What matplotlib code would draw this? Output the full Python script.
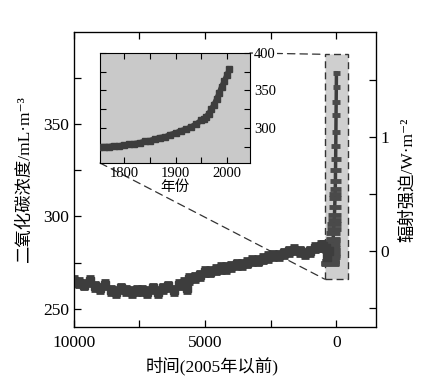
import matplotlib
matplotlib.use("Agg")
import matplotlib.pyplot as plt
import numpy as np
from matplotlib.patches import Rectangle, ConnectionPatch

# ── Données ─────────────────────────────────────────────────────────────
# Série principale : années avant 2005 -> CO2 (mL/m3)
bp_years = [10000, 9800, 9600, 9400, 9200, 9000, 8800, 8600, 8400, 8200,
            8000, 7800, 7600, 7400, 7200, 7000, 6800, 6600, 6400, 6200,
            6000, 5800, 5700, 5600, 5400, 5200, 5000, 4800, 4600, 4400,
            4200, 4000, 3800, 3600, 3400, 3200, 3000, 2800, 2600, 2400,
            2200, 2000, 1800, 1600, 1400, 1200, 1000, 800, 600, 500,
            400, 350, 300]
co2_bp = [265, 264, 263, 265, 262, 261, 263, 260, 259, 261,
          260, 259, 260, 260, 259, 261, 259, 261, 262, 260,
          263, 264, 261, 266, 267, 268, 270, 270, 271, 272,
          272, 273, 274, 274, 275, 276, 276, 277, 278, 279,
          279, 280, 281, 282, 281, 280, 281, 283, 284, 284,
          283, 278, 281]

# Période industrielle (encart) : année -> CO2
ind_years = [1750, 1760, 1770, 1780, 1790, 1800, 1810, 1820, 1830, 1840,
             1850, 1860, 1870, 1880, 1890, 1900, 1910, 1920, 1930, 1940,
             1950, 1955, 1960, 1965, 1970, 1975, 1980, 1985, 1990, 1995,
             2000, 2005]
co2_ind = [274, 275, 275, 276, 276, 277, 278, 279, 280, 282,
           283, 285, 287, 288, 291, 293, 296, 298, 301, 305,
           310, 312, 315, 319, 325, 331, 338, 346, 355, 362,
           370, 378]

DARK = "#3d3d3d"
CJK = ["Liberation Serif", "Noto Sans CJK SC", "DejaVu Serif"]
plt.rcParams["font.family"] = CJK

fig = plt.figure(figsize=(4.37, 3.77), dpi=100, facecolor="white")
ax = fig.add_axes([0.169, 0.1326, 0.691, 0.782])

# rectangle de zoom
ax.add_patch(Rectangle((450, 266), -900, 122, facecolor="#cfcfcf",
                       edgecolor="#333333", ls=(0, (5, 3)), lw=1.0, zorder=1))

ax.errorbar(bp_years, co2_bp, yerr=2.5, fmt="s", ms=6, color=DARK,
            ecolor=DARK, elinewidth=2, capsize=2.8, capthick=2, zorder=3)
bp_ind = [2005 - y for y in ind_years]
ax.plot(bp_ind, co2_ind, color=DARK, lw=2.5, zorder=3)
widths = np.linspace(170, 20, len(bp_ind))
ax.scatter(bp_ind, co2_ind, marker="_", s=widths, lw=3.5,
           color="#4a4a4a", zorder=3)

ax.set_xlim(10000, -1500)
ax.set_ylim(240, 400)
ax.set_xticks([10000, 5000, 0])
ax.set_xticks([7500, 2500], minor=True)
ax.set_yticks([250, 300, 350])
ax.set_yticks([275, 325, 375], minor=True)
ax.tick_params(which="both", direction="in", length=5, top=True,
               labelsize=12.5, width=0.9)
ax.tick_params(axis="x", pad=6)
for sp in ax.spines.values():
    sp.set_linewidth(0.9)
ax.set_xlabel("时间(2005年以前)", fontsize=12.5)
ax.xaxis.set_label_coords(0.457, -0.1)
ax.set_ylabel("二氧化碳浓度/mL·m⁻³", fontsize=12.5)
ax.yaxis.set_label_coords(-0.136, 0.5)

# axe droit : forçage radiatif
rax = ax.twinx()
rax.set_ylim(-0.667, 1.92)
rax.set_yticks([0, 1])
rax.set_yticks([-0.5, 0.5, 1.5], minor=True)
rax.tick_params(which="both", direction="in", length=5, labelsize=12.5,
                width=0.9)
rax.set_ylabel("辐射强迫/W·m⁻²", fontsize=12.5)
rax.yaxis.set_label_coords(1.08, 0.5)

# encart
ins = fig.add_axes([0.229, 0.5676, 0.343, 0.2918], facecolor="#c9c9c9")
ins.errorbar(ind_years, co2_ind, yerr=2, fmt="s", ms=4, color=DARK,
             ecolor=DARK, elinewidth=1.5, capsize=2, zorder=3)
ins.plot(ind_years, co2_ind, color=DARK, lw=4, zorder=3)
ins.set_xlim(1753, 2045)
ins.set_ylim(253, 400)
ins.set_xticks([1800, 1900, 2000])
ins.set_xticks([1850, 1950], minor=True)
ins.set_yticks([300, 350, 400])
ins.set_yticks([275, 325, 375], minor=True)
ins.yaxis.tick_right()
ins.tick_params(which="both", direction="in", length=4, top=True, left=True,
                right=True, labelsize=10.5, width=0.8, pad=3)
ins.set_xlabel("年份", fontsize=10.5, labelpad=0)
for lbl in ins.get_yticklabels():
    lbl.set_bbox(dict(facecolor="white", edgecolor="none", pad=0.5))

# lignes de liaison
for xy_in, xy_main in [((1.0, 1.0), (450, 388)), ((0.0, 0.0), (450, 266))]:
    con = ConnectionPatch(xyA=xy_in, coordsA=ins.transAxes, xyB=xy_main,
                          coordsB=ax.transData, color="#333333",
                          ls=(0, (6, 4)), lw=0.9, zorder=0.5)
    ax.add_artist(con)

fig.savefig("out.png", dpi=100, facecolor="white")
